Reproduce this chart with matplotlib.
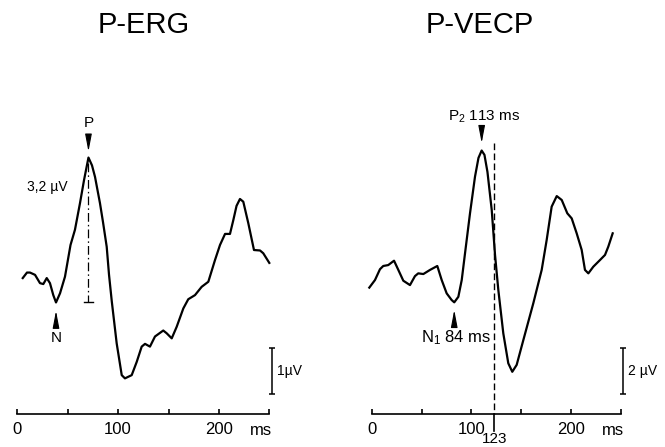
import numpy as np
import matplotlib.pyplot as plt

plt.rcParams['font.family'] = ['Liberation Sans', 'DejaVu Sans']
plt.rcParams['mathtext.default'] = 'regular'

# P-ERG trace, time in ms and amplitude in µV
erg_ms = [5.4, 9.6, 12.6, 17.6, 22.5, 25.8, 29.2, 32.4, 35.7, 38.4, 42.4, 47.3,
          52.8, 57.2, 62.2, 66.2, 70.6, 74.1, 77.1, 82.0, 85.0, 88.7, 91.0, 93.7,
          98.6, 103.6, 106.8, 113.5, 118.5, 123.4, 126.7, 131.6, 136.6, 144.8,
          148.2, 153.2, 158.1, 164.7, 169.6, 176.3, 182.9, 189.5, 196.1, 201.1,
          206.1, 211.0, 214.3, 217.5, 220.9, 224.2, 229.2, 234.8, 240.8, 244.0, 250.0]
erg_uv = [-0.03, 0.09, 0.09, 0.04, -0.14, -0.16, -0.03, -0.14, -0.40, -0.56, -0.36, 0.00,
          0.69, 1.02, 1.60, 2.10, 2.59, 2.42, 2.17, 1.60, 1.19, 0.65, 0.04, -0.53,
          -1.45, -2.14, -2.21, -2.14, -1.85, -1.52, -1.46, -1.52, -1.30, -1.17,
          -1.23, -1.34, -1.09, -0.69, -0.49, -0.40, -0.22, -0.11, 0.36, 0.69,
          0.93, 0.93, 1.23, 1.54, 1.69, 1.63, 1.16, 0.58, 0.57, 0.51, 0.30]

# P-VECP trace
vecp_ms = [-2.4, 3.3, 8.3, 11.6, 16.6, 22.4, 26.7, 31.7, 38.4, 43.4, 46.7, 51.8,
           58.5, 65.8, 70.2, 75.2, 80.2, 82.8, 86.9, 90.3, 93.6, 98.6, 103.6, 107.1,
           110.3, 113.1, 116.1, 120.4, 123.7, 127.0, 132.0, 137.0, 141.0, 145.4,
           152.1, 162.1, 170.5, 175.5, 180.5, 185.6, 190.6, 196.2, 200.6, 205.6,
           210.6, 213.9, 217.3, 222.3, 229.0, 234.0, 237.3, 241.7]
vecp_uv = [0.03, 0.36, 0.83, 0.97, 1.01, 1.20, 0.80, 0.33, 0.14, 0.53, 0.65, 0.62,
           0.80, 0.97, 0.36, -0.22, -0.51, -0.61, -0.37, 0.36, 1.52, 3.26, 4.85, 5.67,
           5.99, 5.80, 5.06, 3.40, 1.45, -0.07, -1.96, -3.26, -3.63, -3.33,
           -2.25, -0.65, 0.80, 2.10, 3.55, 4.01, 3.84, 3.26, 3.04, 2.39,
           1.67, 0.80, 0.65, 0.94, 1.23, 1.45, 1.81, 2.39]

titles = ['P-ERG', 'P-VECP']
tick_ms = [0, 50, 100, 150, 200, 250]
tick_labels = ['0', '', '100', '', '200', '']
scale_uv = [1, 2]
scale_labels = ['1µV', '2 µV']
erg_amp_label = '3,2 µV'
latency_mark = 123
p2_label = 'P$_2$ 113 ms'
n1_label = 'N$_1$ 84 ms'

W, H = 665, 447
fig = plt.figure(figsize=(W / 100, H / 100), dpi=100)


def panel(x0, x1, t0, ppms, v0, ppuv):
    # axes covering pixel columns x0..x1, full height; t0/v0 = pixel of 0 ms / 0 µV
    ax = fig.add_axes([x0 / W, 0, (x1 - x0) / W, 1])
    ax.set_xlim((x0 - t0) / ppms, (x1 - t0) / ppms)
    ax.set_ylim((v0 - H) / ppuv, v0 / ppuv)
    ax.patch.set_visible(False)
    for s in ['top', 'left', 'right']:
        ax.spines[s].set_visible(False)
    base = (v0 - 414) / ppuv
    ax.spines['bottom'].set_position(('data', base))
    ax.spines['bottom'].set_bounds(0, 250)
    ax.spines['bottom'].set_linewidth(1.2)
    ax.set_yticks([])
    ax.set_xticks(tick_ms, tick_labels)
    ax.tick_params(axis='x', direction='in', length=3.8, width=1.2, pad=6,
                   labelsize=12)
    ax.annotate('ms', xy=(250, base), xytext=(-6, -6.5), textcoords='offset points',
                ha='center', va='top', fontsize=12)
    return ax, base, lambda py: (v0 - py) / ppuv


def scale_bar(ax, x, top, size, label):
    ax.errorbar([x], [top - size / 2], yerr=size / 2, color='black', lw=1.1,
                capsize=2.5, capthick=1.1)
    ax.annotate(label, xy=(x, top - size / 2), xytext=(4, 0),
                textcoords='offset points', ha='left', va='center', fontsize=10)


arrow = dict(arrowstyle='-|>,head_length=1.05,head_width=0.2', color='black',
             lw=0.8, shrinkA=0)

# ---- P-ERG ----
ax1, base1, uv1 = panel(0, 332, 17.3, 1.008, 276.7, 46)
ax1.plot(erg_ms, erg_uv, color='black', lw=1.6, solid_joinstyle='round')
ip = int(np.argmax(erg_uv))
iN = int(np.argmin(erg_uv[:ip]))
tp, vp = erg_ms[ip], erg_uv[ip]
tn, vn = erg_ms[iN], erg_uv[iN]
ax1.annotate('', xy=(tp, vp), xytext=(0, 14.8), textcoords='offset points',
             arrowprops=dict(arrow, shrinkB=4.3))
ax1.annotate('P', xy=(tp, vp), xytext=(0, 24.8), textcoords='offset points',
             ha='center', va='center', fontsize=11)
ax1.annotate('', xy=(tn, vn), xytext=(0, -16.3), textcoords='offset points',
             arrowprops=dict(arrow, shrinkB=6.0))
ax1.annotate('N', xy=(tn, vn), xytext=(0, -25.3), textcoords='offset points',
             ha='center', va='center', fontsize=11)
ax1.plot([tp, tp], [vp - 0.12, vn], color='black', lw=0.9,
         linestyle=(0, (7, 2.5, 1.2, 2.5)))
ax1.plot([tp - 4.5, tp + 4.5], [vn, vn], color='black', lw=1.0)
ax1.annotate(erg_amp_label, xy=(tp, vp), xytext=(-14.8, -21.2),
             textcoords='offset points', ha='right', va='center', fontsize=10)
scale_bar(ax1, 252.4, uv1(348), scale_uv[0], scale_labels[0])

# ---- P-VECP ----
ax2, base2, uv2 = panel(332, 665, 371.7, 0.997, 288.3, 23)
ax2.plot(vecp_ms, vecp_uv, color='black', lw=1.6, solid_joinstyle='round')
ip = int(np.argmax(vecp_uv))
iN = int(np.argmin(vecp_uv[:ip]))
tp, vp = vecp_ms[ip], vecp_uv[ip]
tn, vn = vecp_ms[iN], vecp_uv[iN]
ax2.annotate('', xy=(tp, vp), xytext=(0, 16.2), textcoords='offset points',
             arrowprops=dict(arrow, shrinkB=5.4))
ax2.annotate(p2_label, xy=(tp, vp), xytext=(1.5, 24.1), textcoords='offset points',
             ha='center', va='center', fontsize=11)
ax2.annotate('', xy=(tn, vn), xytext=(0, -14.9), textcoords='offset points',
             arrowprops=dict(arrow, shrinkB=5.5))
ax2.annotate(n1_label, xy=(tn, vn), xytext=(1.5, -25.3), textcoords='offset points',
             ha='center', va='center', fontsize=12)
ax2.plot([latency_mark, latency_mark], [uv2(143), base2], color='black', lw=1.0,
         linestyle=(0, (4.8, 2.4)))
ax2.plot([latency_mark, latency_mark], [base2, uv2(431)], color='black', lw=1.2,
         clip_on=False)
ax2.annotate(str(latency_mark), xy=(latency_mark, uv2(446)), xytext=(0, 0),
             textcoords='offset points', ha='center', va='bottom', fontsize=11)
scale_bar(ax2, 251.8, uv2(348), scale_uv[1], scale_labels[1])

fig.text(144 / W, 1 - 25 / H, titles[0], ha='center', va='center', fontsize=21)
fig.text(480 / W, 1 - 25 / H, titles[1], ha='center', va='center', fontsize=21)

fig.savefig('out.png', dpi=100)
